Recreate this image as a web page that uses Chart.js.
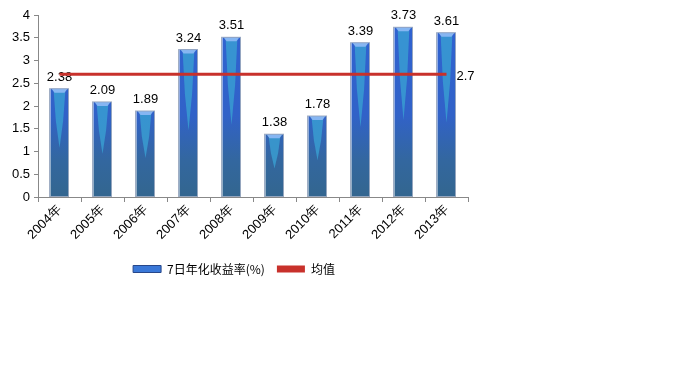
<!DOCTYPE html>
<html>
<head>
<meta charset="utf-8">
<script src="https://cdn.jsdelivr.net/npm/chart.js@4"></script>
<style>
  html, body { margin: 0; padding: 0; background: #fff; }
  #wrap { position: absolute; left: 0; top: 0; width: 480px; height: 285px; }
</style>
</head>
<body>
<div id="wrap"><canvas id="chart"></canvas></div>
<script>
// 年份 / 7日年化收益率 / 均值
const years = ['2004年', '2005年', '2006年', '2007年', '2008年', '2009年', '2010年', '2011年', '2012年', '2013年'];
const yields = [2.38, 2.09, 1.89, 3.24, 3.51, 1.38, 1.78, 3.39, 3.73, 3.61];
const avgValue = 2.7;
const avgLine = years.map(() => avgValue);
const yTicks = [0, 0.5, 1, 1.5, 2, 2.5, 3, 3.5, 4];

const FONT = "'Liberation Sans', Arial, sans-serif";
const CJK = "'Noto Sans CJK SC', sans-serif";

function barFill(ctx) {
  const area = ctx.chart.chartArea;
  if (!area) return '#3062cc';
  const g = ctx.chart.ctx.createLinearGradient(0, area.top, 0, area.bottom);
  g.addColorStop(0, '#2f62d2');
  g.addColorStop(0.55, '#3162c8');
  g.addColorStop(0.8, '#33679f');
  g.addColorStop(1, '#33668f');
  return g;
}

// 柱子高光 + 数值标签
const barDecor = {
  id: 'barDecor',
  afterDatasetDraw(chart, args) {
    if (args.index !== 0) return;
    const c = chart.ctx;
    const meta = chart.getDatasetMeta(0);
    c.save();
    meta.data.forEach((bar, i) => {
      const w = bar.width, l = bar.x - w / 2, r = bar.x + w / 2;
      const h = bar.base - bar.y;
      // center stripe
      c.fillStyle = 'rgba(58,160,210,0.8)';
      c.beginPath();
      c.moveTo(bar.x - w * 0.32, bar.y + 3);
      c.lineTo(bar.x + w * 0.32, bar.y + 3);
      c.lineTo(bar.x + w * 0.2, bar.y + h * 0.3);
      c.lineTo(bar.x, bar.y + h * 0.55);
      c.lineTo(bar.x - w * 0.2, bar.y + h * 0.3);
      c.closePath();
      c.fill();
      // top cap
      c.fillStyle = '#86b6f2';
      c.beginPath();
      c.moveTo(l + 1, bar.y);
      c.lineTo(r - 1, bar.y);
      c.lineTo(r - 4, bar.y + 4);
      c.lineTo(l + 4, bar.y + 4);
      c.closePath();
      c.fill();
      // side outline
      c.strokeStyle = 'rgba(150,165,190,0.9)';
      c.lineWidth = 1;
      c.strokeRect(Math.round(l) - 0.5, bar.y, Math.round(w) + 1, h);
      // value label
      c.fillStyle = '#000';
      c.font = '13px ' + FONT;
      c.textAlign = 'center';
      c.textBaseline = 'bottom';
      c.fillText(yields[i].toFixed(2), bar.x, bar.y - 5);
    });
    c.restore();
  },
  afterDatasetsDraw(chart) {
    const meta = chart.getDatasetMeta(1);
    const last = meta.data[meta.data.length - 1];
    const c = chart.ctx;
    c.save();
    c.fillStyle = '#000';
    c.font = '13px ' + FONT;
    c.textAlign = 'left';
    c.textBaseline = 'middle';
    c.fillText(String(avgValue), last.x + 10, last.y + 2);
    c.restore();
  }
};

new Chart(document.getElementById('chart'), {
  data: {
    labels: years,
    datasets: [
      {
        type: 'bar', label: '7日年化收益率(%)', data: yields,
        backgroundColor: barFill, barPercentage: 0.42, categoryPercentage: 1,
        order: 2
      },
      {
        type: 'line', label: '均值', data: avgLine,
        borderColor: '#c8312b', borderWidth: 3, pointRadius: 0, fill: false,
        order: 1
      }
    ]
  },
  options: {
    responsive: true, maintainAspectRatio: false, animation: false,
    layout: { padding: { top: 15, right: 12, left: 0, bottom: 0 } },
    plugins: {
      tooltip: { enabled: false },
      legend: {
        position: 'bottom',
        labels: {
          font: { family: CJK, size: 12 }, color: '#000', boxWidth: 28, boxHeight: 7, padding: 12,
          generateLabels(chart) {
            return [
              { text: '7日年化收益率(%)', fillStyle: '#3a78d8', strokeStyle: '#27478a', lineWidth: 1, datasetIndex: 0 },
              { text: '均值', fillStyle: '#c8312b', strokeStyle: '#c8312b', lineWidth: 0, datasetIndex: 1 }
            ];
          }
        }
      }
    },
    scales: {
      x: {
        offset: true,
        grid: { offset: true, drawOnChartArea: false, color: '#888', tickLength: 5 },
        border: { color: '#888' },
        ticks: { color: '#000', font: { family: FONT, size: 13 }, maxRotation: 45, minRotation: 45, padding: 0 },
        afterFit(s) { s.height = 54; }
      },
      y: {
        min: 0, max: 4,
        afterBuildTicks(s) { s.ticks = yTicks.map(v => ({ value: v })); },
        grid: { drawOnChartArea: false, color: '#888', tickLength: 4 },
        border: { color: '#888' },
        ticks: { color: '#000', font: { family: FONT, size: 13 }, padding: 4, callback: v => String(v) },
        afterFit(s) { s.width = 38; }
      }
    }
  },
  plugins: [barDecor]
});
</script>
</body>
</html>
